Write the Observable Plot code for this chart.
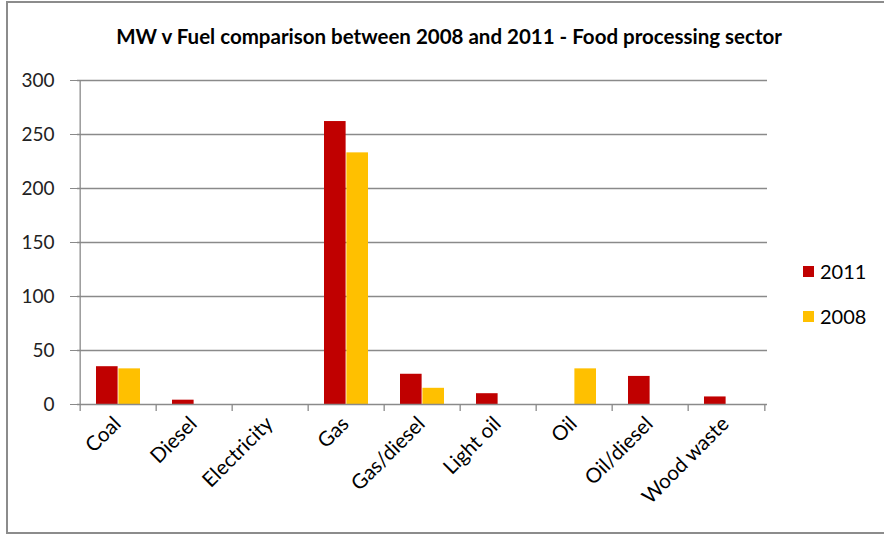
<!DOCTYPE html>
<html>
<head>
<meta charset="utf-8">
<script src="https://cdn.jsdelivr.net/npm/d3@7"></script>
<script src="https://cdn.jsdelivr.net/npm/@observablehq/plot@0.6"></script>
<style>
  html, body { margin: 0; padding: 0; background: #fff; }
  #wrap { position: relative; width: 884px; height: 534px; overflow: hidden; font-family: Lato, "Open Sans", sans-serif; }
  #frame { position: absolute; left: 6px; top: 1px; width: 900px; height: 529px; border: 2px solid #8c8c8c; box-sizing: content-box; }
  #title { position: absolute; left: 0; width: 898px; top: 24px; text-align: center; font-weight: bold; font-size: 20.5px; color: #000; }
  #chart { position: absolute; left: 0; top: 0; }
  .leg { position: absolute; left: 803px; font-size: 20px; color: #000; display: flex; align-items: center; }
  .sw { width: 11px; height: 11px; margin-right: 6px; }
</style>
</head>
<body>
<div id="wrap">
  <div id="frame"></div>
  <div id="chart"></div>
  <div id="title">MW v Fuel comparison between 2008 and 2011 - Food processing sector</div>
  <div id="legend"></div>
</div>
<script>
const categories = ["Coal", "Diesel", "Electricity", "Gas", "Gas/diesel", "Light oil", "Oil", "Oil/diesel", "Wood waste"];
const values2011 = [35, 4, 0, 262, 28, 10, 0, 26, 7];
const values2008 = [33, 0, 0, 233, 15, 0, 33, 0, 0];
const series = ["2011", "2008"];
const colors = ["#C00000", "#FFC000"];
const yTicks = [0, 50, 100, 150, 200, 250, 300];

const rows2011 = categories.map((c, i) => ({category: c, value: values2011[i]}));
const rows2008 = categories.map((c, i) => ({category: c, value: values2008[i]}));

const W = 884, H = 534, mL = 77, mR = 117, mT = 80, mB = 130;
const step = (W - mL - mR) / categories.length;
const pad = 0.416;
const half = step * (1 - pad) / 2;

const plot = Plot.plot({
  width: W, height: H,
  marginLeft: mL, marginRight: mR, marginTop: mT, marginBottom: mB,
  style: {fontFamily: "Lato, 'Open Sans', sans-serif", fontSize: "19px", color: "#000", background: "transparent"},
  x: {domain: categories, paddingInner: pad, paddingOuter: pad / 2, label: null},
  y: {domain: [0, 300], label: null},
  marks: [
    Plot.ruleY(yTicks.slice(1), {stroke: "#8a8a8a", strokeWidth: 1.3}),
    Plot.barY(rows2011, {x: "category", y: "value", fill: colors[0], insetRight: half}),
    Plot.barY(rows2008, {x: "category", y: "value", fill: colors[1], insetLeft: half}),
    Plot.ruleY([0], {stroke: "#8a8a8a", strokeWidth: 1.3}),
    Plot.ruleX([categories[0]], {x: d => d, dx: -step / 2, y1: 0, y2: 300, stroke: "#8a8a8a", strokeWidth: 1.3}),
    Plot.ruleX(categories, {x: d => d, dx: -step / 2, y1: 0, y2: -6.5, stroke: "#8a8a8a", strokeWidth: 1.3}),
    Plot.ruleX([categories[categories.length - 1]], {x: d => d, dx: step / 2, y1: 0, y2: -6.5, stroke: "#8a8a8a", strokeWidth: 1.3}),
    Plot.axisY({ticks: yTicks, tickSize: 7, tickPadding: 16, stroke: "#8a8a8a", fill: "#222", fontSize: 19, tickFormat: d => String(d)}),
    Plot.axisX({tickSize: 0, tickPadding: 16, tickRotate: -45, fontSize: 20.5, fill: "#000", dx: -1})
  ]
});
document.getElementById("chart").appendChild(plot);

const legend = document.getElementById("legend");
const legTops = [259, 304];
series.forEach((s, i) => {
  const d = document.createElement("div");
  d.className = "leg";
  d.style.top = legTops[i] + "px";
  d.innerHTML = `<span class="sw" style="background:${colors[i]}"></span><span>${s}</span>`;
  legend.appendChild(d);
});
</script>
</body>
</html>
